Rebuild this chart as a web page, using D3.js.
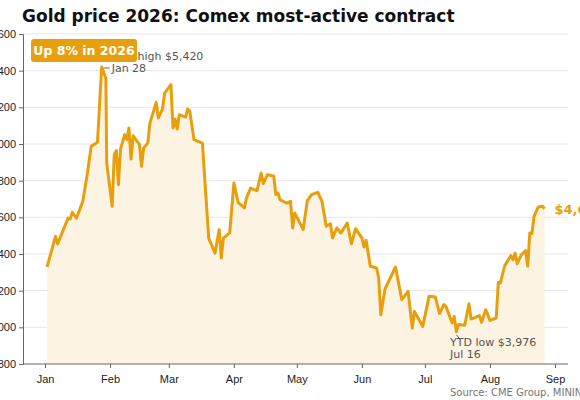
<!DOCTYPE html>
<html>
<head>
<meta charset="utf-8">
<script src="https://cdn.jsdelivr.net/npm/d3@7"></script>
<style>
  body { margin: 0; background: #fff; overflow: hidden; }
  svg { font-family: "DejaVu Sans", sans-serif; }
</style>
</head>
<body>
<div id="chart"></div>
<script>
// day of year 2026 (0 = Jan 1) and Comex price
const days = [1,5,6,11,12,13,15,18,20,22,25,27,29,29.4,32,33,34,35,36,38,39,40,41,42,45,46,47,49,50,53,54,56,57,60,61,62,63,64,67,68,69,71,75,78,81,83,84,85,88,90,92,95,96,98,101,103,104,106,109,110,111,112,115,117,118,119,123,125,127,130,132,134,136,137,139,141,144,146,148,151,152,153,155,158,159,160,162,167,170,173,175,176,180,183,186,188,190,191,194,195,196,197,200,202,203,207,208,210,212,215,216,217,219,222,223,224,225,227,229,230,231,232,233,235,237,238];
const prices = [4329,4496,4455,4596,4591,4627,4595,4687,4824,4987,5009,5420,5360,4896,4660,4942,4964,4778,4973,5051,5024,5087,4918,5045,4996,4878,4978,5006,5115,5227,5142,5191,5278,5324,5087,5136,5082,5160,5147,5191,5178,5024,5005,4487,4405,4533,4378,4487,4515,4787,4682,4651,4705,4760,4745,4842,4784,4833,4824,4724,4733,4696,4678,4687,4542,4624,4533,4691,4724,4736,4687,4551,4565,4487,4542,4515,4569,4456,4538,4487,4438,4475,4333,4324,4269,4069,4209,4329,4151,4196,3996,4087,4005,4169,4165,4075,4124,4115,4024,4060,3976,4015,4011,4129,4045,4064,4027,4096,4038,4051,4245,4242,4336,4391,4369,4405,4347,4396,4418,4333,4515,4511,4605,4656,4660,4647];
const yTicks = [3800,4000,4200,4400,4600,4800,5000,5200,5400,5600];
const monthLabels = ["Jan","Feb","Mar","Apr","May","Jun","Jul","Aug","Sep"];

const W = 580, H = 400;
const start = new Date(2026, 0, 1);
const data = days.map((d, i) => ({ date: d3.timeHour.offset(start, Math.round(d * 24)), v: prices[i] }));

const orange = "#e89f0c";
const svg = d3.select("#chart").append("svg").attr("width", W).attr("height", H);

const x = d3.scaleTime().domain([start, new Date(2026, 8, 1)]).range([45, 555]);
const y = d3.scaleLinear().domain([3800, 5600]).range([364, 34]);

// gridlines
svg.append("g").selectAll("line").data(yTicks.slice(1)).enter().append("line")
  .attr("x1", 23).attr("x2", 568)
  .attr("y1", d => y(d)).attr("y2", d => y(d))
  .attr("stroke", "#e6e6e6").attr("stroke-width", 1);

// area + line
svg.append("path").datum(data)
  .attr("d", d3.area().x(d => x(d.date)).y0(y(3800)).y1(d => y(d.v)))
  .attr("fill", "#fdf3e2");
svg.append("path").datum(data)
  .attr("d", d3.line().x(d => x(d.date)).y(d => y(d.v)))
  .attr("fill", "none").attr("stroke", orange).attr("stroke-width", 3)
  .attr("stroke-linejoin", "round");

// axes
const yAxis = svg.append("g").attr("transform", "translate(23,0)")
  .call(d3.axisLeft(y).tickValues(yTicks).tickSize(4).tickFormat(d3.format(",")));
const months = d3.range(9).map(m => new Date(2026, m, 1));
const xAxis = svg.append("g").attr("transform", "translate(0,364)")
  .call(d3.axisBottom(x).tickValues(months).tickSize(4).tickFormat((d, i) => monthLabels[i]));
[yAxis, xAxis].forEach(a => {
  a.selectAll("path, line").attr("stroke", "#666");
  a.selectAll("text").attr("fill", "#222").style("font-size", "11px");
});
xAxis.select(".domain").attr("d", "M23,0H568");
xAxis.selectAll("text").attr("dy", "1.1em");

// high annotation
const hi = data[d3.maxIndex(data, d => d.v)];
svg.append("line").attr("x1", x(hi.date) + 2).attr("x2", x(hi.date) + 8)
  .attr("y1", y(hi.v) + 1).attr("y2", y(hi.v) + 1).attr("stroke", "#666");
svg.append("text").attr("x", x(hi.date) + 10).attr("y", y(hi.v) + 5)
  .attr("fill", "#555").style("font-size", "11px").text("Jan 28");
svg.append("text").attr("x", 112).attr("y", 60)
  .attr("fill", "#555").style("font-size", "11px").text("YTD high $5,420");

// badge
svg.append("rect").attr("x", 31).attr("y", 39).attr("width", 106).attr("height", 23)
  .attr("rx", 3).attr("fill", orange);
svg.append("text").attr("x", 84).attr("y", 55).attr("text-anchor", "middle")
  .attr("fill", "#fff").style("font-size", "12.5px").style("font-weight", "bold").text("Up 8% in 2026");

// low annotation
const lo = data[d3.minIndex(data, d => d.v)];
svg.append("line").attr("x1", x(lo.date)).attr("y1", y(lo.v) + 3)
  .attr("x2", x(lo.date) + 4).attr("y2", y(lo.v) + 8).attr("stroke", "#666");
svg.append("text").attr("x", 450).attr("y", 346).attr("fill", "#555").style("font-size", "11px").text("YTD low $3,976");
svg.append("text").attr("x", 450).attr("y", 358).attr("fill", "#555").style("font-size", "11px").text("Jul 16");

// last value
const last = data[data.length - 1];
svg.append("text").attr("x", x(last.date) + 10).attr("y", y(last.v) + 5)
  .attr("fill", orange).style("font-size", "13px").style("font-weight", "bold").text("$4,647");

// title + source
svg.append("text").attr("x", 22).attr("y", 22).attr("fill", "#111")
  .style("font-size", "17px").style("font-weight", "bold").text("Gold price 2026: Comex most-active contract");
svg.append("text").attr("x", 450).attr("y", 396).attr("fill", "#777")
  .style("font-size", "10px").text("Source: CME Group, MINING.COM");
</script>
</body>
</html>
